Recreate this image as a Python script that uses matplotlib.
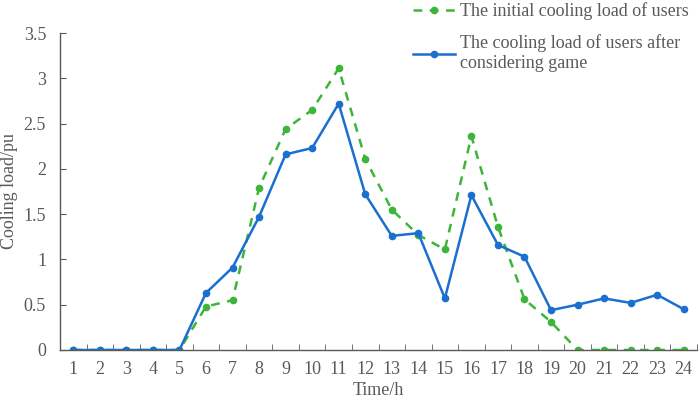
import numpy as np
import matplotlib.pyplot as plt

hours = list(range(1, 25))
initial_load = [0, 0, 0, 0, 0, 0.48, 0.55, 1.79, 2.44, 2.65, 3.11, 2.11,
                1.55, 1.27, 1.11, 2.36, 1.36, 0.56, 0.31, 0, 0, 0, 0, 0]
game_load = [0, 0, 0, 0, 0, 0.63, 0.91, 1.47, 2.16, 2.23, 2.72, 1.72,
             1.26, 1.29, 0.57, 1.71, 1.16, 1.03, 0.44, 0.50, 0.57, 0.52, 0.61, 0.45]
yticks = [0, 0.5, 1, 1.5, 2, 2.5, 3, 3.5]
ytick_labels = ['0', '0.5', '1', '1.5', '2', '2.5', '3', '3.5']

plt.rcParams['font.family'] = ['Liberation Serif', 'DejaVu Serif']
grey = '#595959'
green = '#3db53a'
blue = '#1b6fcf'

fig = plt.figure(figsize=(6.99, 3.99), dpi=100)
ax = fig.add_axes([60/699, 1-350/399, 637/699, 317/399])

l1, = ax.plot(hours, initial_load, color=green, ls=(0, (3.5, 3)), lw=1.8,
              marker='o', ms=4.5, label='The initial cooling load of users')
l2, = ax.plot(hours, game_load, color=blue, lw=1.8, marker='o', ms=4.5,
              label='The cooling load of users after\nconsidering game')

ax.set_xlim(0.5, 24.5)
ax.set_ylim(0, 3.5)
ax.set_yticks(yticks)
ax.set_yticklabels(ytick_labels)
ax.set_xticks(hours)
ax.set_xticklabels([str(h) for h in hours])
ax.set_xticks(np.arange(0.5, 25, 1), minor=True)
ax.tick_params(axis='x', which='major', length=0, pad=8, labelsize=13, labelcolor=grey)
ax.tick_params(axis='x', which='minor', direction='in', length=4, color=grey)
ax.tick_params(axis='y', direction='in', length=4, color=grey, labelsize=13,
               labelcolor=grey, pad=10)

for s in ['top', 'right']:
    ax.spines[s].set_visible(False)
for s in ['left', 'bottom']:
    ax.spines[s].set_color(grey)
    ax.spines[s].set_linewidth(1.0)

ax.set_xlabel('Time/h', fontsize=13, color=grey, labelpad=3)
ax.set_ylabel('Cooling load/pu', fontsize=13, color=grey)
ax.yaxis.set_label_coords(-42/637, 0.5)

fig.legend(handles=[l1, l2], loc='upper left', bbox_to_anchor=(397/699, 1.035),
           frameon=False, fontsize=13, labelcolor=grey, handlelength=2.3,
           handletextpad=0.3, labelspacing=0.8)

fig.savefig('out.png', dpi=100)
